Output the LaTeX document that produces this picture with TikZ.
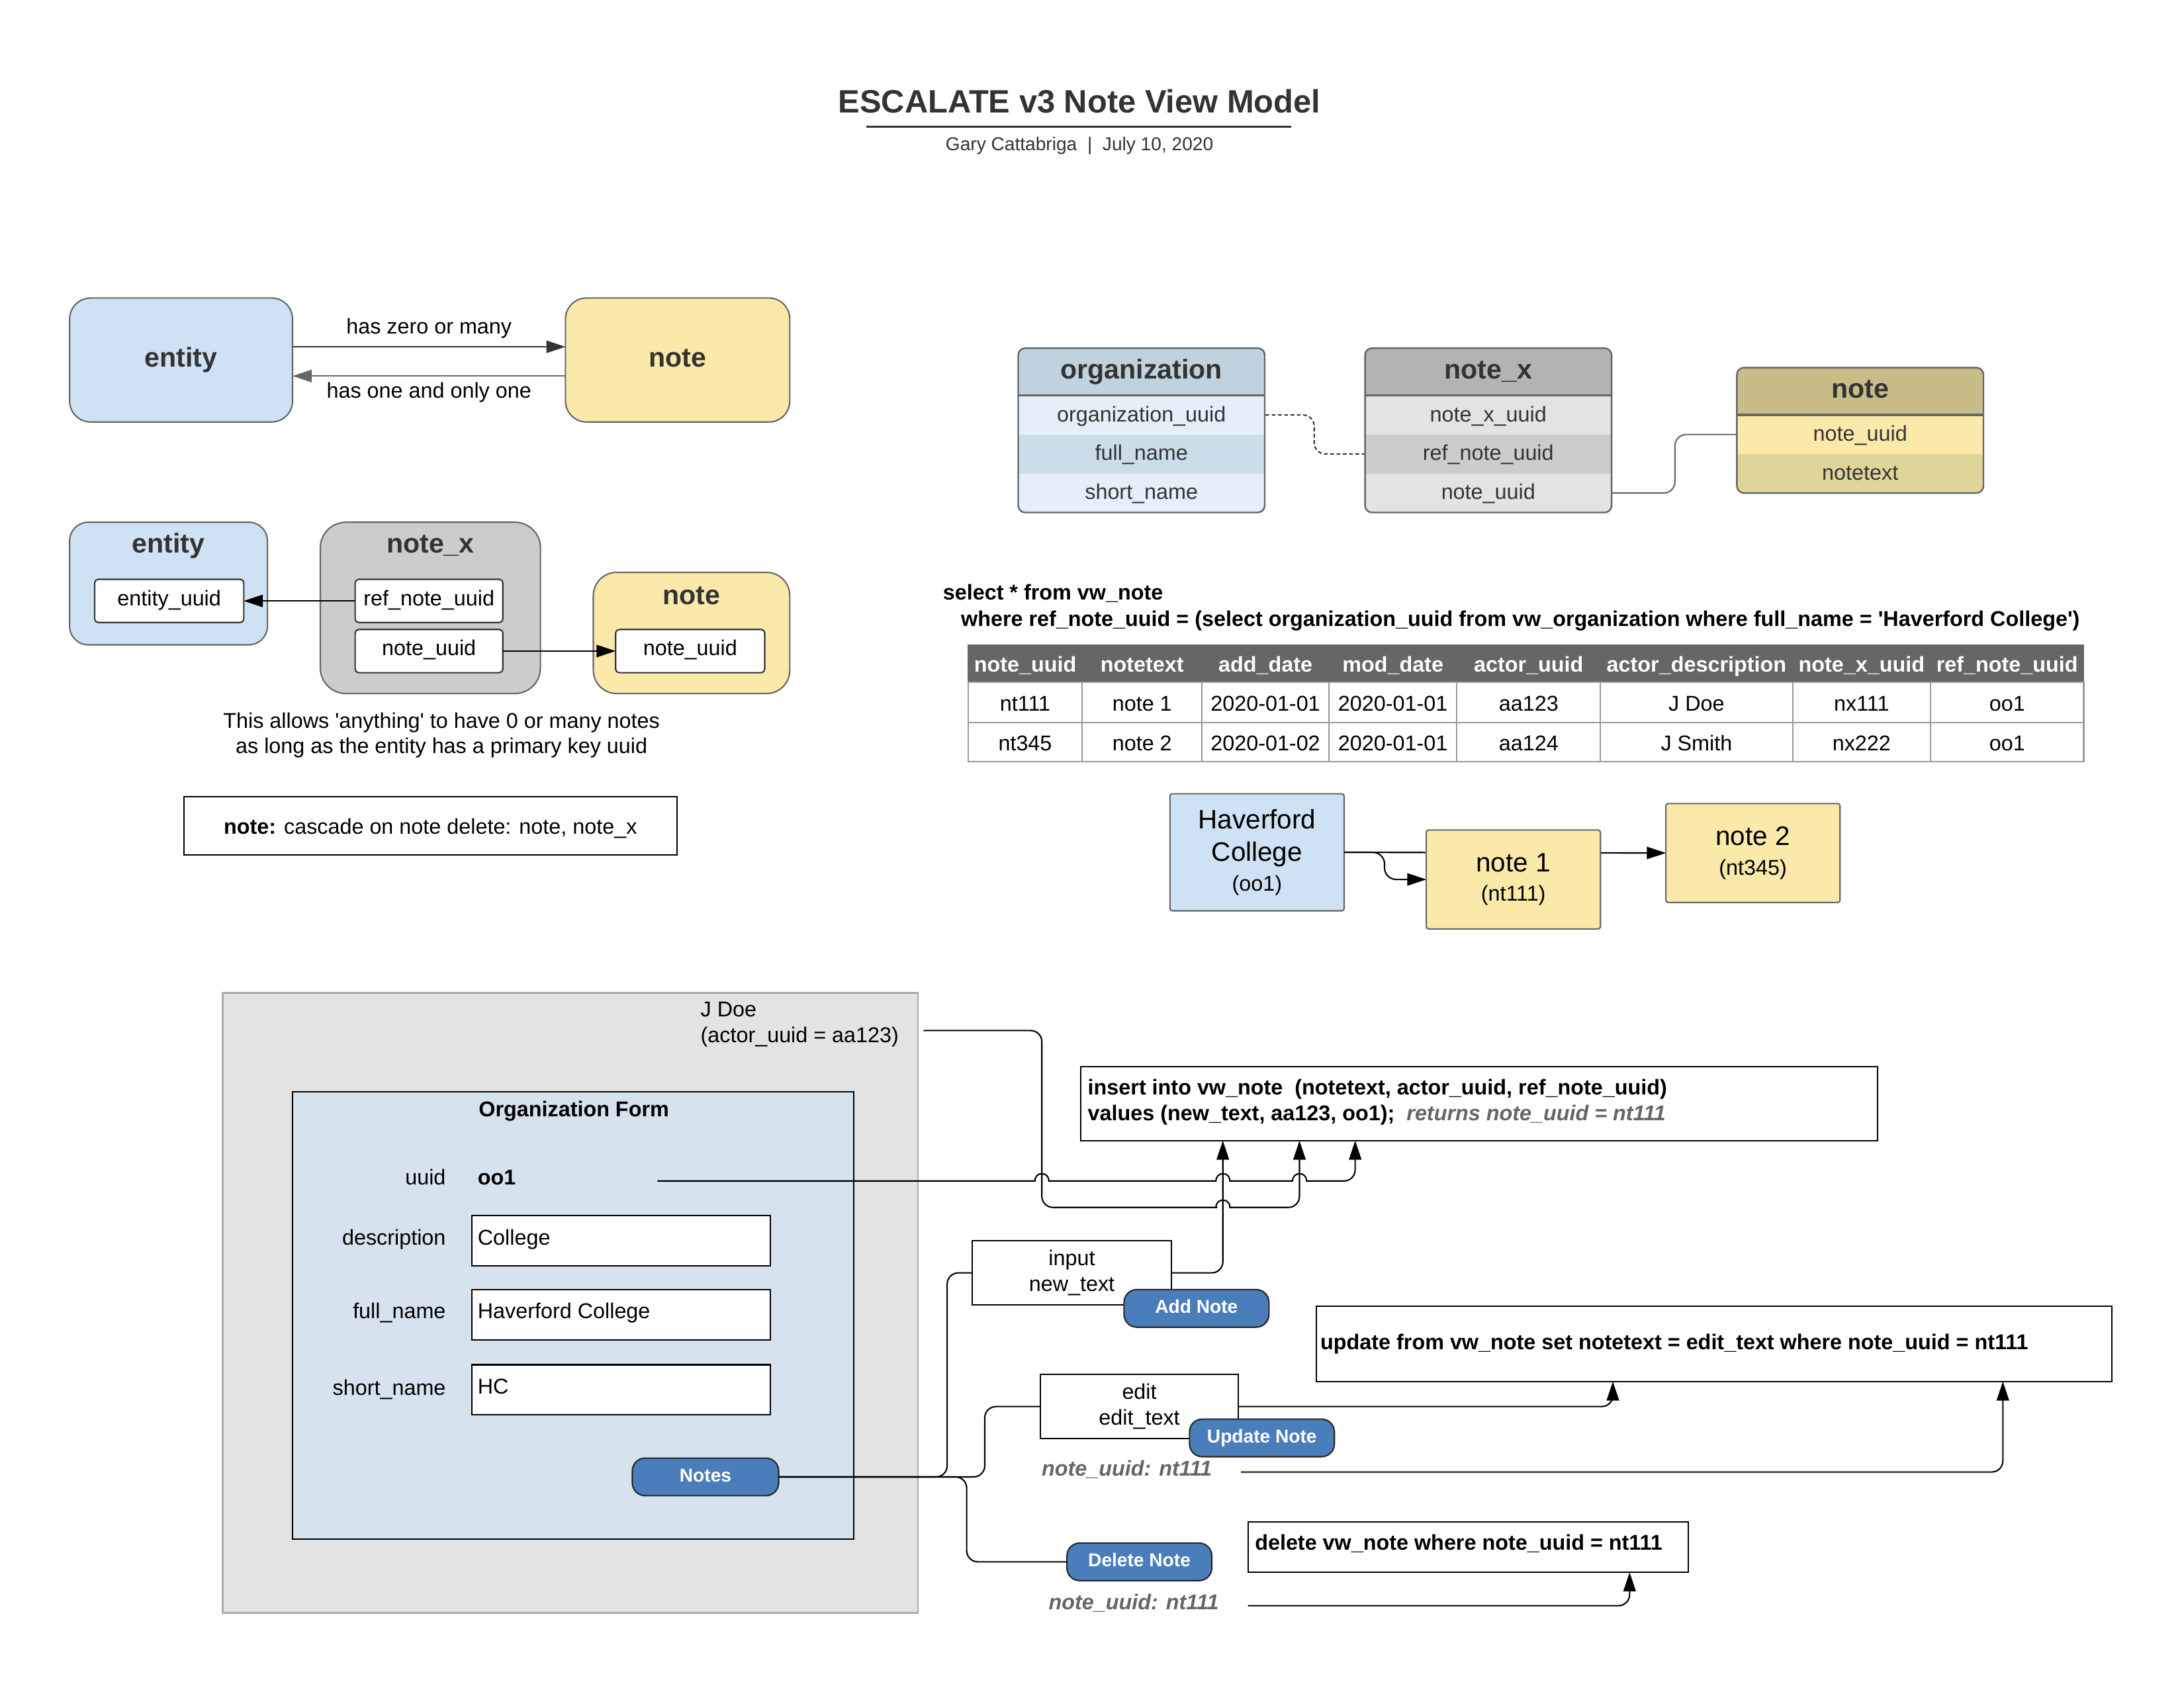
\documentclass[tikz,border=0pt]{standalone}
\usepackage{fontspec}
\setmainfont{Liberation Sans}[Ligatures=TeXOff]
\usetikzlibrary{arrows.meta,calc}

\definecolor{ink}{HTML}{333333}
\definecolor{entfill}{HTML}{CFE2F3}
\definecolor{notefill}{HTML}{FAE9A9}
\definecolor{xfill}{HTML}{CCCCCC}
\definecolor{edgegray}{HTML}{666666}
\definecolor{orghead}{HTML}{C1D2DF}
\definecolor{orgrowA}{HTML}{E4EFFA}
\definecolor{orgrowB}{HTML}{CCDDEA}
\definecolor{xhead}{HTML}{B3B3B3}
\definecolor{xrowA}{HTML}{E3E3E3}
\definecolor{xrowB}{HTML}{CCCCCC}
\definecolor{nhead}{HTML}{C8BC88}
\definecolor{nrowA}{HTML}{FAE9A9}
\definecolor{nrowB}{HTML}{E0D598}
\definecolor{thfill}{HTML}{666666}
\definecolor{cellline}{HTML}{999999}
\definecolor{panelfill}{HTML}{E3E3E3}
\definecolor{panelline}{HTML}{AAAAAA}
\definecolor{formfill}{HTML}{D6E3EE}
\definecolor{btnblue}{HTML}{4A7EBB}
\definecolor{hintgray}{HTML}{666666}

\newcommand\fsBody{\fontsize{9.2}{11}\selectfont}
\newcommand\fsHead{\fontsize{11.7}{14}\selectfont\bfseries}
\newcommand\fsTitle{\fontsize{13.9}{16}\selectfont\bfseries}
\newcommand\fsSub{\fontsize{8}{10}\selectfont}
\newcommand\fsBtn{\fontsize{8}{10}\selectfont\bfseries}
\newcommand\fsBig{\fontsize{11.5}{14}\selectfont}

\tikzset{
  every node/.style={inner sep=0pt, outer sep=0pt, font=\fsBody, text=black},
  sz/.style 2 args={minimum width={#1*0.59882pt}, minimum height={#2*0.59882pt}},
  lbl/.style={text height=8.5pt, text depth=1.5pt},
  blbl/.style={font=\fsBody\bfseries, text height=8.5pt, text depth=1.5pt},
  hlbl/.style={font=\fsHead, text=ink, text height=8.8pt, text depth=2.9pt},
  hintlbl/.style={font=\fsBody\bfseries\itshape, text=hintgray, text height=8.5pt, text depth=1.5pt},
  rbox/.style={draw=edgegray, line width=0.6pt},
  field/.style={draw=ink, fill=white, rounded corners=1.5pt, line width=0.6pt,
    text height=6.5pt, text depth=2.5pt},
  plainbox/.style={draw=black, fill=white, line width=0.6pt},
  sqbox/.style={draw=edgegray, line width=0.6pt, rounded corners=1pt},
  btn/.style={draw=black!85, fill=btnblue, line width=0.6pt, rounded corners=5.5pt,
    text=white, font=\fsBtn, text height=6pt, text depth=2pt},
  cellbox/.style={text height=7.6pt, text depth=2pt, text=ink},
  arr/.style={-{Triangle[length=8.2pt,width=5.3pt]}},
  conn/.style={draw=black, line width=0.6pt},
  softbend/.style={rounded corners=4.8pt},
}

\begin{document}
\begin{tikzpicture}[x=0.021046cm, y=-0.021046cm]
\fill[white] (0,0) rectangle (1568,1212);
\useasboundingbox (0,0) rectangle (1568,1212);

% ---------- heading ----------
\node[font=\fsTitle, text=ink, anchor=base] (title) at (775,81) {ESCALATE v3 Note View Model};
\draw[ink, line width=0.9pt] (622,91) -- (927,91);
\node[font=\fsSub, text=ink, anchor=base] (byline) at (775,108) {Gary Cattabriga\ \ |\ \ July 10, 2020};

% ---------- entity / note cardinality ----------
\node[rbox, fill=entfill, rounded corners=9pt, sz={160}{89}, hlbl] (entA) at (130,258.5) {entity};
\node[rbox, fill=notefill, rounded corners=9pt, sz={161}{89}, hlbl] (noteA) at (486.5,258.5) {note};
\draw[ink, line width=0.6pt, arr] ($(entA.east)+(0,-9.5)$) -- ($(noteA.west)+(0,-9.5)$);
\draw[edgegray, line width=0.6pt, arr] ($(noteA.west)+(0,11.5)$) -- ($(entA.east)+(0,11.5)$);
\node[lbl] (manyLbl) at (308,234) {has zero or many};
\node[lbl] (oneLbl) at (308,280) {has one and only one};

% ---------- entity / note_x / note keys ----------
\node[rbox, fill=entfill, rounded corners=8pt, sz={142}{88}] (entB) at (121,419) {};
\node[hlbl] (entBt) at (121,392) {entity};
\node[field, sz={107}{31}] (entBid) at (121.5,431.5) {entity\_uuid};
\node[rbox, fill=xfill, rounded corners=11pt, sz={158}{123}] (nxBox) at (309,436.5) {};
\node[hlbl] (nxBoxt) at (309,392) {note\_x};
\node[field, sz={106}{31}] (nxRef) at (308,431.5) {ref\_note\_uuid};
\node[field, sz={106}{31}] (nxNu) at (308,467.5) {note\_uuid};
\node[rbox, fill=notefill, rounded corners=10pt, sz={141}{87}] (noteB) at (496.5,454.5) {};
\node[hlbl] (noteBt) at (496.5,429) {note};
\node[field, sz={107}{31}] (noteBnu) at (495.5,467.5) {note\_uuid};
\draw[conn, arr] (nxRef.west) -- (entBid.east);
\draw[conn, arr] (nxNu.east) -- (noteBnu.west);
\node[align=center] (capB) at (317,528) {This allows 'anything' to have 0 or many notes\\as long as the entity has a primary key uuid};
\node[plainbox, sz={354}{42}, lbl] (casc) at (309,593) {\textbf{note:} cascade on note delete: note, note\_x};

% ---------- ER tables ----------
\begin{scope}
\clip[rounded corners=3pt] (731,250) rectangle (908,368);
\node[fill=orghead, sz={178}{34}, hlbl] (orgH) at (819.5,267) {organization};
\node[fill=orgrowA, sz={178}{28}, cellbox] (orgA) at (819.5,298) {organization\_uuid};
\node[fill=orgrowB, sz={178}{28}, cellbox] (orgB) at (819.5,326) {full\_name};
\node[fill=orgrowA, sz={178}{28}, cellbox] (orgC) at (819.5,354) {short\_name};
\end{scope}
\draw[edgegray, line width=1pt] (731,284) -- (908,284);
\draw[edgegray, line width=0.7pt, rounded corners=3pt] (731,250) rectangle (908,368);

\begin{scope}
\clip[rounded corners=3pt] (980,250) rectangle (1157,368);
\node[fill=xhead, sz={178}{34}, hlbl] (nxH) at (1068.5,267) {note\_x};
\node[fill=xrowA, sz={178}{28}, cellbox] (nxA) at (1068.5,298) {note\_x\_uuid};
\node[fill=xrowB, sz={178}{28}, cellbox] (nxB) at (1068.5,326) {ref\_note\_uuid};
\node[fill=xrowA, sz={178}{28}, cellbox] (nxC) at (1068.5,354) {note\_uuid};
\end{scope}
\draw[edgegray, line width=1pt] (980,284) -- (1157,284);
\draw[edgegray, line width=0.7pt, rounded corners=3pt] (980,250) rectangle (1157,368);

\begin{scope}
\clip[rounded corners=3pt] (1247,264) rectangle (1424,354);
\node[fill=nhead, sz={178}{34}, hlbl] (ntH) at (1335.5,281) {note};
\node[fill=nrowA, sz={178}{28}, cellbox] (ntA) at (1335.5,312) {note\_uuid};
\node[fill=nrowB, sz={178}{28}, cellbox] (ntB) at (1335.5,340) {notetext};
\end{scope}
\draw[edgegray, line width=1pt] (1247,298) -- (1424,298);
\draw[edgegray, line width=0.7pt, rounded corners=3pt] (1247,264) rectangle (1424,354);

\draw[ink, line width=0.6pt, dash pattern=on 1.6pt off 1.1pt, softbend] (orgA.east) -- ++(35,0) |- (nxB.west);
\draw[edgegray, line width=0.6pt, softbend] (nxC.east) -- ++(45,0) |- (ntA.west);

% ---------- query and result ----------
\node[blbl, anchor=west] (qSel) at (677,425) {select * from vw\_note};
\node[blbl, anchor=west] (qWhere) at (690,444) {where ref\_note\_uuid = (select organization\_uuid from vw\_organization where full\_name = 'Haverford College')};

\foreach \xl/\xr/\hd/\va/\vb [count=\i] in {
  695/777/note\_uuid/nt111/nt345,
  777/863/notetext/note 1/note 2,
  863/954/add\_date/2020-01-01/2020-01-02,
  954/1046/mod\_date/2020-01-01/2020-01-01,
  1046/1149/actor\_uuid/aa123/aa124,
  1149/1287/actor\_description/J Doe/J Smith,
  1287/1386/note\_x\_uuid/nx111/nx222,
  1386/1496/ref\_note\_uuid/oo1/oo1}
{
  \filldraw[fill=thfill, draw=black!60, line width=0.4pt] (\xl,463) rectangle (\xr,490);
  \draw[cellline, line width=0.6pt] (\xl,490) rectangle (\xr,519);
  \draw[cellline, line width=0.6pt] (\xl,519) rectangle (\xr,547);
  \node[blbl, text=white] (th\i) at ({(\xl+\xr)/2},476.5) {\hd};
  \node[lbl] (tdA\i) at ({(\xl+\xr)/2},504.5) {\va};
  \node[lbl] (tdB\i) at ({(\xl+\xr)/2},533) {\vb};
}

% ---------- Haverford notes chain ----------
\node[sqbox, fill=entfill, sz={125}{84}, align=center, font=\fsBig] (hav) at (902.5,612)
  {Haverford\\College\\[-1.4pt]{\fsBody (oo1)}};
\node[sqbox, fill=notefill, sz={125}{71}, align=center, font=\fsBig] (nt2) at (1258.5,612.5)
  {note 2\\[-1.4pt]{\fsBody (nt345)}};
\draw[conn, arr] (hav.east) -- (nt2.west);
\node[sqbox, fill=notefill, sz={125}{71}, align=center, font=\fsBig] (nt1) at (1086.5,631.5)
  {note 1\\[-1.4pt]{\fsBody (nt111)}};
\draw[conn, arr, rounded corners=5pt] (hav.east) -- ++(29,0) |- (nt1.west);

% ---------- organization form ----------
\node[fill=panelfill, draw=panelline, line width=0.7pt, sz={499}{445}] (panel) at (409.5,935.5) {};
\node[anchor=west, align=left] (jdoe) at (503,735.5) {J Doe\\(actor\_uuid = aa123)};
\node[fill=formfill, draw=black, line width=0.6pt, sz={403}{321}] (form) at (411.5,944.5) {};
\node[blbl] (formT) at (412,796) {Organization Form};

\node[lbl, anchor=east] (lUuid) at (320,845) {uuid};
\node[blbl, anchor=west] (vUuid) at (343,845) {oo1};
\node[lbl, anchor=east] (lDesc) at (320,888) {description};
\node[plainbox, sz={214}{36}] (fDesc) at (446,891) {};
\node[lbl, anchor=west] (vDesc) at (343,888) {College};
\node[lbl, anchor=east] (lFull) at (320,941) {full\_name};
\node[plainbox, sz={214}{36}] (fFull) at (446,944) {};
\node[lbl, anchor=west] (vFull) at (343,941) {Haverford College};
\node[lbl, anchor=east] (lShort) at (320,996) {short\_name};
\node[plainbox, sz={214}{36}] (fShort) at (446,998) {};
\node[lbl, anchor=west] (vShort) at (343,995) {HC};
\node[btn, sz={105}{27}] (notesBtn) at (506.5,1060.5) {Notes};

% ---------- statements ----------
\node[plainbox, sz={572}{53}] (ins) at (1062,792.5) {};
\node[anchor=west, align=left, font=\fsBody\bfseries] (insT) at (781,791.5)
  {insert into vw\_note\ \ (notetext, actor\_uuid, ref\_note\_uuid)\\values (new\_text, aa123, oo1);\ \ {\color{hintgray}\itshape returns note\_uuid = nt111}};

\node[plainbox, sz={571}{54}] (upd) at (1230.5,965) {};
\node[blbl, anchor=west] (updT) at (948,963) {update from vw\_note set notetext = edit\_text where note\_uuid = nt111};

\node[plainbox, sz={316}{36}] (del) at (1054,1111) {};
\node[blbl, anchor=west] (delT) at (901,1107) {delete vw\_note where note\_uuid = nt111};

% ---------- actions ----------
\node[plainbox, sz={143}{46}, align=center] (inp) at (769.5,914) {input\\new\_text};
\node[btn, sz={104}{27}] (addBtn) at (859,939.5) {Add Note};
\node[plainbox, sz={142}{46}, align=center] (edt) at (818,1010) {edit\\edit\_text};
\node[btn, sz={104}{27}] (updBtn) at (906,1032.5) {Update Note};
\node[hintlbl] (nu1) at (809,1054) {note\_uuid: nt111};
\node[btn, sz={104}{27}] (delBtn) at (818,1121.5) {Delete Note};
\node[hintlbl] (nu2) at (814,1150) {note\_uuid: nt111};

\coordinate (jdoeOut) at (663,740);
\coordinate (uuidOut) at (472,848);
\coordinate (nu1Out) at (891,1057);
\coordinate (nu2Out) at (896,1153);

% connectors into the insert statement; hops are drawn with sharp joins
\draw[conn, arr, softbend] (inp.east) -| ($(ins.south west)+(102,0)$);
\draw[conn, arr, softbend] (jdoeOut) -| (748,867) -- (866,867) [sharp corners] -- (873,867)
  .. controls (873,860) and (883,860) .. (883,867) -- (890,867)
  [rounded corners=4.8pt] -| ($(ins.south west)+(157,0)$);
\draw[conn, arr] (uuidOut) -- (743,848)
  .. controls (743,841) and (753,841) .. (753,848) -- (873,848)
  .. controls (873,841) and (883,841) .. (883,848) -- (928,848)
  .. controls (928,841) and (938,841) .. (938,848) -- (945,848)
  [rounded corners=4.8pt] -| ($(ins.south west)+(197,0)$);

% Notes button branches
\draw[conn, softbend] (notesBtn.east) -- ++(121,0) |- (inp.west);
\draw[conn, softbend] (notesBtn.east) -- ++(148,0) |- (edt.west);
\draw[conn, softbend] (notesBtn.east) -- ++(135,0) |- (delBtn.west);

% connectors into update / delete
\draw[conn, arr, softbend] (edt.east) -| ($(upd.south west)+(213,0)$);
\draw[conn, arr, softbend] (nu1Out) -| ($(upd.south west)+(493,0)$);
\draw[conn, arr, softbend] (nu2Out) -| ($(del.south west)+(274,0)$);

\end{tikzpicture}
\end{document}
